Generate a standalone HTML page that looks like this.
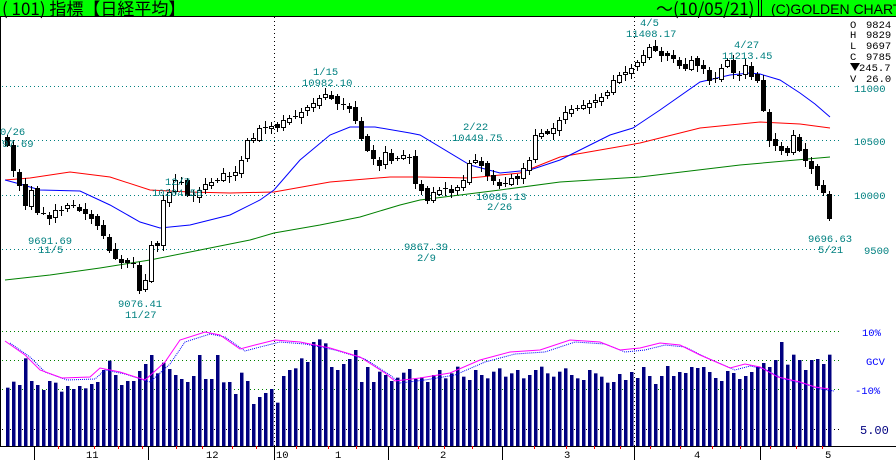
<!DOCTYPE html>
<html><head><meta charset="utf-8"><style>
html,body{margin:0;padding:0;background:#fff;width:896px;height:460px;overflow:hidden}
svg{display:block}
text{font-family:"Liberation Mono","WenQuanYi Zen Hei",monospace;font-size:10.5px}
.t{fill:#008080}
</style></head><body>
<svg id="s" width="896" height="460" xmlns="http://www.w3.org/2000/svg">
<rect x="0" y="0" width="896" height="460" fill="#fff"/>
<rect x="0" y="0" width="896" height="16" fill="#00ff00"/>
<line x1="0" y1="16.5" x2="896" y2="16.5" stroke="#000"/>
<text x="2" y="15" style="font-family:'WenQuanYi Zen Hei','Noto Sans CJK JP',sans-serif;font-size:17px">( 101) 指標【日経平均】</text>
<text x="656" y="15" style="font-family:'WenQuanYi Zen Hei','Noto Sans CJK JP',sans-serif;font-size:17px">～(10/05/21)</text>
<line x1="758.5" y1="0" x2="758.5" y2="16" stroke="#000"/><line x1="761.5" y1="0" x2="761.5" y2="16" stroke="#000"/>
<text x="771" y="14" style="font-family:'Liberation Sans',sans-serif;font-size:14px">(C)GOLDEN CHART</text>
<line x1="0.5" y1="17" x2="0.5" y2="446" stroke="#000"/>
<g stroke="#008080" stroke-dasharray="1,3">
<line x1="2" y1="86.5" x2="840" y2="86.5"/><line x1="2" y1="140.5" x2="840" y2="140.5"/>
<line x1="2" y1="195.5" x2="840" y2="195.5"/><line x1="2" y1="249.5" x2="840" y2="249.5"/>
</g>
<g stroke="#000" stroke-dasharray="1,3">
<line x1="274.5" y1="17" x2="274.5" y2="446"/><line x1="634.5" y1="17" x2="634.5" y2="446"/>
</g>
<g stroke="#008000" stroke-dasharray="1,3">
<line x1="2" y1="331.5" x2="840" y2="331.5"/><line x1="2" y1="360.5" x2="840" y2="360.5"/><line x1="2" y1="389.5" x2="840" y2="389.5"/>
</g>
<line x1="2" y1="429.5" x2="840" y2="429.5" stroke="#000" stroke-dasharray="1,3"/>
<g id="bars"></g>
<polyline id="ib" fill="none" stroke="#0000ff" stroke-dasharray="1,1"/>
<polyline id="im" fill="none" stroke="#ff00ff"/>
<polyline fill="none" stroke="#008000" points="5,280 50,275 100,268 150,260 200,250 250,240 274,233 320,225 360,217 400,205 420,200 500,190 560,182 640,177 740,165 830,157"/>
<polyline fill="none" stroke="#ff0000" points="5,180 30,178 70,172 110,177 150,190 190,192 230,193 274,192 330,182 390,177 420,177 470,178 520,173 560,157 600,150 640,143 700,128 760,122 800,124 830,128"/>
<polyline fill="none" stroke="#0000ff" points="5,180 20,184 40,190 80,191 110,205 140,222 160,228 190,225 230,215 260,200 274,190 300,160 330,135 350,127 375,127 410,133 420,135 470,165 500,173 530,170 560,160 610,135 633,128 660,110 700,82 730,75 750,73 760,74 780,80 800,93 815,104 830,117"/>
<g id="cand"></g>
<line x1="0" y1="446.5" x2="896" y2="446.5" stroke="#000"/>
<g stroke="#000"><line x1="34.5" y1="446" x2="34.5" y2="460"/><line x1="148.5" y1="446" x2="148.5" y2="460"/><line x1="274.5" y1="446" x2="274.5" y2="460"/><line x1="388.5" y1="446" x2="388.5" y2="460"/><line x1="502.5" y1="446" x2="502.5" y2="460"/><line x1="634.5" y1="446" x2="634.5" y2="460"/><line x1="760.5" y1="446" x2="760.5" y2="460"/></g>
<g id="ticks" stroke="#ff0000"></g>
<g style="font-size:12px">
<text x="86" y="458">11</text><text x="206" y="458">12</text><text x="276" y="458">10</text><text x="335" y="458">1</text><text x="440" y="458">2</text><text x="564" y="458">3</text><text x="694" y="458">4</text><text x="825" y="458">5</text>
</g>
<g class="t">
<text x="0" y="135">0/26</text><text x="2" y="147">97.69</text>
<text x="28" y="244">9691.69</text><text x="38" y="253">11/5</text>
<text x="118" y="307">9076.41</text><text x="125" y="318">11/27</text>
<text x="165" y="185">12/7</text><text x="152" y="196">10204.58</text>
<text x="313" y="75">1/15</text><text x="302" y="86">10982.10</text>
<text x="463" y="130">2/22</text><text x="452" y="141">10449.75</text>
<text x="476" y="200">10085.13</text><text x="487" y="210">2/26</text>
<text x="404" y="250">9867.39</text><text x="417" y="261">2/9</text>
<text x="640" y="26">4/5</text><text x="626" y="37">11408.17</text>
<text x="734" y="48">4/27</text><text x="722" y="59">11213.45</text>
<text x="808" y="242">9696.63</text><text x="818" y="253">5/21</text>
<text x="854" y="92">11000</text><text x="854" y="145">10500</text><text x="854" y="199">10000</text><text x="864" y="254">9500</text>
</g>
<g style="font-size:11.5px">
<text x="850" y="28">O</text><text x="866" y="28">9824</text>
<text x="850" y="38">H</text><text x="866" y="38">9829</text>
<text x="850" y="49">L</text><text x="866" y="49">9697</text>
<text x="850" y="60">C</text><text x="866" y="60">9785</text>
<polygon points="850,63 860,63 855,71" fill="#000"/><text x="859" y="71">245.7</text>
<text x="850" y="82">V</text><text x="866" y="82">26.0</text>
</g>
<g fill="#0000ff" style="font-size:12px"><text x="862" y="336">10%</text><text x="866" y="365">GCV</text><text x="855" y="394">-10%</text></g>
<text x="860" y="434" fill="#000080" style="font-size:12px">5.00</text>
</svg>
<script>
(function(){
var NS="http://www.w3.org/2000/svg";
function el(p,t,a){var e=document.createElementNS(NS,t);for(var k in a)e.setAttribute(k,a[k]);p.appendChild(e);return e;}
var ys=[145,170,185,205,190,212,213,218,210,210,205,205,210,213,218,225,235,250,258,262,262,263,290,280,245,245,200,192,180,182,195,195,190,184,182,180,173,176,172,160,140,138,128,127,126,127,120,118,116,112,107,103,98,94,98,103,104,108,120,138,150,158,165,152,160,158,155,157,183,190,200,192,190,188,192,187,180,163,160,165,175,180,185,183,178,178,168,160,135,133,133,128,120,112,109,108,105,103,100,97,92,80,75,72,68,62,55,47,50,55,55,58,65,68,60,65,68,80,78,68,60,72,75,65,76,80,110,140,145,150,152,135,150,160,168,185,192,218];
var c=document.getElementById("cand");
for(var i=0;i<ys.length;i++){var x=7+i*6;var cl=ys[i];var op=i?ys[i-1]+((i*7)%5-2):cl-8;
var tp=Math.min(op,cl),bm=Math.max(op,cl);var hi=tp-2-(i*3)%5,lo=bm+2+(i*5)%6;
el(c,"line",{x1:x+.5,y1:hi,x2:x+.5,y2:lo,stroke:"#000"});
if(bm-tp<1.5){el(c,"line",{x1:x-2,y1:cl+.5,x2:x+3,y2:cl+.5,stroke:"#000"});}
else el(c,"rect",{x:x-1.5,y:tp+.5,width:4,height:bm-tp,fill:cl<op?"#fff":"#000",stroke:"#000"});}
var bt=[203,185,195,115,183,195,210,183,188,215,198,207,198,205,192,186,150,122,165,195,183,183,153,132,105,160,128,147,165,177,186,168,105,177,177,105,187,186,222,158,183,252,231,219,207,248,168,150,145,115,126,66,58,70,141,150,132,117,90,186,141,186,155,165,183,173,158,147,177,172,186,165,150,175,160,140,170,180,150,165,175,155,145,170,160,150,175,165,150,140,160,170,155,145,165,175,180,150,160,170,188,186,162,180,156,174,141,168,192,168,138,168,156,159,141,144,141,156,174,183,153,159,177,168,156,141,129,141,120,66,134,104,120,150,120,117,132,104,147,171,117];
var b=document.getElementById("bars");
for(var i=0;i<138;i++){var x=6+i*6;var t=320+bt[Math.min(i,bt.length-1)]/3;el(b,"rect",{x:x,y:t,width:3.5,height:446-t,fill:"#000080"});}
var m=[[5,341],[25,355],[40,370],[62,378],[90,377],[100,368],[120,372],[145,380],[165,362],[180,340],[205,332],[220,335],[240,349],[255,345],[275,340],[300,342],[330,348],[360,357],[385,373],[395,381],[420,378],[450,373],[480,360],[510,352],[540,350],[570,340],[600,342],[620,350],[640,348],[660,343],[680,345],[700,355],[730,368],[745,364],[760,367],[778,377],[800,382],[815,387],[829,389]];
document.getElementById("im").setAttribute("points",m.map(function(p){return p.join(",")}).join(" "));
document.getElementById("ib").setAttribute("points",m.map(function(p){return (p[0]+5)+","+(p[1]+2)}).join(" "));
var tk=document.getElementById("ticks");
[58,94,118,142,176,202,232,256,296,328,356,418,444,472,534,566,594,620,650,680,712,740,770,796,822].forEach(function(x){el(tk,"line",{x1:x+.5,y1:446,x2:x+.5,y2:449});});
})();
</script>
</body></html>
